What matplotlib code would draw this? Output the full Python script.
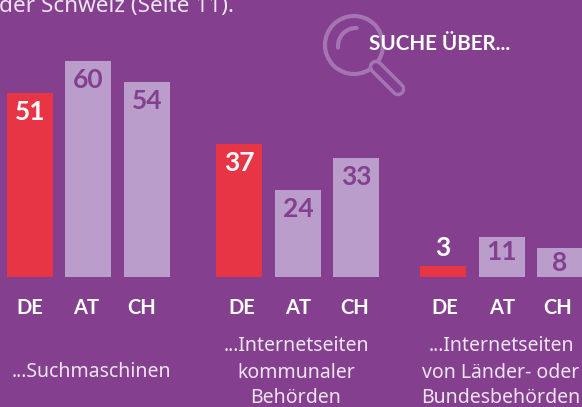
import matplotlib
matplotlib.use("Agg")
import matplotlib.pyplot as plt
from matplotlib.patches import Circle, Arc

countries = ["DE", "AT", "CH"]
suchmaschinen = [51, 60, 54]
kommunal = [37, 24, 33]
laender = [3, 11, 8]
series = [suchmaschinen, kommunal, laender]
group_labels = ["...Suchmaschinen",
                "...Internetseiten\nkommunaler\nBehörden",
                "...Internetseiten\nvon Länder- oder\nBundesbehörden"]
title_text = "der Schweiz (Seite 11)."
heading = "SUCHE ÜBER..."

BG = "#84408F"
LIGHT = "#BA9DCB"
RED = "#E83546"
RING = "#A574B2"
W, H = 582, 407
PX = 3.6
BASE = 276.8
FONT = "Noto Sans"
BOLD = "Lato"

bar_left = [[7, 65, 124], [216, 275, 333], [420, 479, 537]]
label_x = [[30, 86, 142], [242, 298, 355], [445, 502, 558]]
group_x = [91, 296, 501]
group_y = [[372], [346, 372.5, 398], [346, 372.5, 398]]

fig = plt.figure(figsize=(W / 100, H / 100), dpi=100, facecolor=BG)
ax = fig.add_axes([0, 0, 1, 1], facecolor=BG)
ax.set_xlim(0, W)
ax.set_ylim(-(H - BASE) / PX, BASE / PX)
ax.axis("off")

ov = fig.add_axes([0, 0, 1, 1], facecolor="none")
ov.set_xlim(0, W)
ov.set_ylim(H, 0)
ov.axis("off")

for g, vals in enumerate(series):
    for i, v in enumerate(vals):
        ax.bar(bar_left[g][i], v, width=46, align="edge",
               color=RED if i == 0 else LIGHT, linewidth=0)
        if v <= 3:
            y, col = v + 5.1, "white"
        else:
            y, col = v - 5.3, "white" if i == 0 else BG
        if v <= 11 and v > 3:
            y = v - 4.2
        ax.text(bar_left[g][i] + 23, y, str(v), color=col, ha="center", va="center",
                fontsize=19, fontweight="bold", family=BOLD)
        ov.text(label_x[g][i], 308, countries[i], color="white", ha="center", va="center",
                fontsize=14.5, fontweight="bold", family=BOLD)
    for line, y in zip(group_labels[g].split("\n"), group_y[g]):
        ov.text(group_x[g], y, line, color="#EFE4F1", ha="center", va="center",
                fontsize=14, family=FONT)

ov.text(-1, 12, title_text, color="#EFE4F1", ha="left", va="baseline", fontsize=16.2, family=FONT)

# magnifier
lw_ring = 3
ov.plot([376, 398], [67, 89], color=RING, lw=10.5, solid_capstyle="round")
ov.plot([376, 398], [67, 89], color=BG, lw=5.5, solid_capstyle="round")
ov.add_patch(Circle((354, 45), 29, facecolor=BG, edgecolor=RING, lw=lw_ring))
ov.add_patch(Arc((356, 46), 36, 36, theta1=175, theta2=272, color=RING, lw=lw_ring, capstyle="round"))

ov.text(369, 44, heading, color="white", ha="left", va="center",
        fontsize=14.9, fontweight="bold", family=BOLD)

fig.savefig("out.png", dpi=100, facecolor=BG)
